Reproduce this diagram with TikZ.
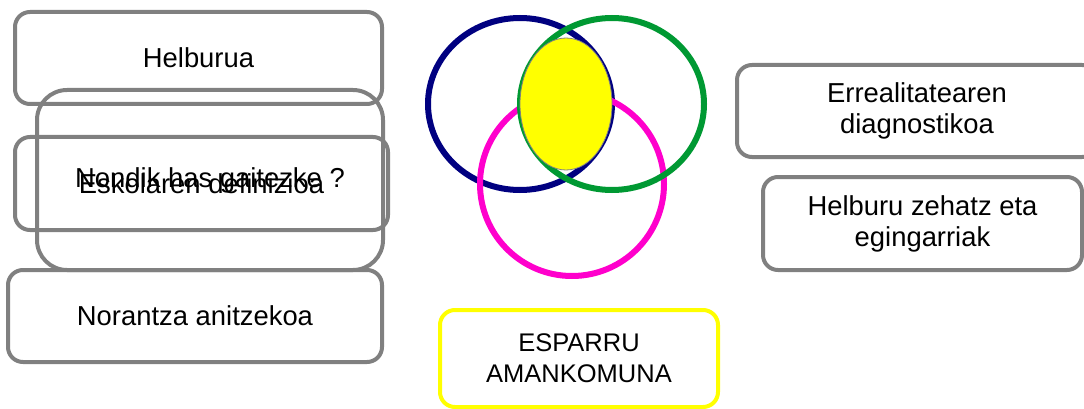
\documentclass[tikz,border=0pt]{standalone}
\usepackage{fontspec}
\setmainfont{Liberation Sans}
\usetikzlibrary{positioning}
\definecolor{boxgray}{RGB}{128,128,128}
\definecolor{venblue}{RGB}{0,0,128}
\definecolor{vengreen}{RGB}{0,153,51}
\definecolor{venpink}{RGB}{255,0,204}
\definecolor{venyellow}{RGB}{255,255,0}
\tikzset{
  idea/.style={draw=boxgray, line width=4pt, rounded corners=15pt, align=center, inner sep=0pt,
    font=\fontsize{27.4}{31}\selectfont},
  ring/.style={line width=6pt},
}
\begin{document}
\begin{tikzpicture}[x=1pt,y=-1pt]
\useasboundingbox (0,0) rectangle (1084,409);

%--------------------------------------------------------------------
\node(helburua) [idea, minimum width=367pt, minimum height=92pt] at (198.5,58) {Helburua};
\node(eskola) [idea, minimum width=373pt, minimum height=93pt] at (201.5,183.5) {Eskolaren definizioa};
\node(nondik) [idea, rounded corners=30pt, minimum width=346pt, minimum height=180pt] at (210,180) {Nondik has gaitezke ?};
\node(norantza) [idea, minimum width=374pt, minimum height=92pt] at (195,316) {Norantza anitzekoa};

%--------------------------------------------------------------------
\draw[ring, venblue] (520,104) ellipse [x radius=92, y radius=86];
\draw[ring, venpink] (572,184) circle [radius=92];
\draw[ring, vengreen] (612,104) ellipse [x radius=92, y radius=86];
\fill[venyellow, draw=boxgray, line width=0.8pt] (566,104) ellipse [x radius=46, y radius=66];

\node(esparru) [idea, draw=venyellow, font=\fontsize{25.5}{31}\selectfont, minimum width=278pt, minimum height=97pt] at (579,358.5) {ESPARRU\\AMANKOMUNA};

%--------------------------------------------------------------------
\node(errealitatea) [idea, minimum width=360pt, minimum height=92pt] at (917,111) {Errealitatearen\\diagnostikoa};
\node(zehatz) [idea, minimum width=319pt, minimum height=93pt] at (922.5,223.5) {Helburu zehatz eta\\egingarriak};

\end{tikzpicture}
\end{document}
